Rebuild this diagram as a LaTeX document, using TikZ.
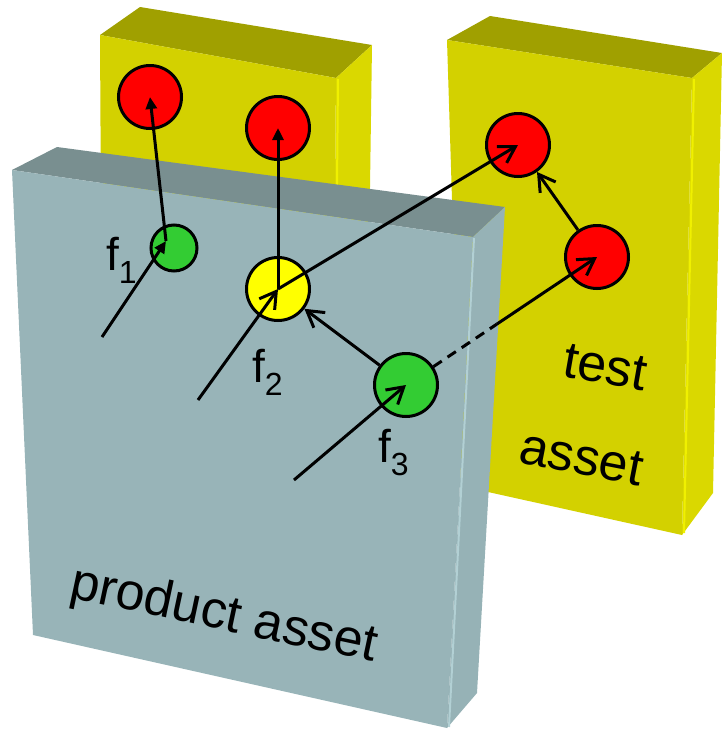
\documentclass[tikz,border=0pt]{standalone}
\usepackage{fontspec}
\setmainfont{Liberation Sans}
\usetikzlibrary{arrows.meta,calc}

% slab and feature colours
\definecolor{yfront}{RGB}{211,209,0}
\definecolor{ytop}{RGB}{160,160,0}
\definecolor{yside}{RGB}{218,216,0}
\definecolor{yedge}{RGB}{240,240,0}
\definecolor{gfront}{RGB}{152,180,184}
\definecolor{gtop}{RGB}{121,143,144}
\definecolor{gside}{RGB}{150,178,182}
\definecolor{gedge}{RGB}{178,208,212}
\definecolor{fred}{RGB}{255,0,0}
\definecolor{fgreen}{RGB}{51,204,51}
\definecolor{fyellow}{RGB}{255,255,0}

\begin{document}
\begin{tikzpicture}[x=1pt,y=-1pt,
  feat/.style={circle,draw=black,line width=3pt,inner sep=0pt,minimum size=63pt},
  smallfeat/.style={feat,minimum size=46pt},
  link/.style={line width=3pt,draw=black},
  solidhead/.style={-{Triangle[length=12pt,width=11pt]}},
  openhead/.style={-{Straight Barb[length=16pt,width=19pt]}},
  flabel/.style={anchor=base west,inner sep=0pt,font=\fontsize{46}{46}\selectfont},
  slabtext/.style={anchor=base west,inner sep=0pt,font=\fontsize{52}{52}\selectfont}
]
\useasboundingbox (0,0) rectangle (722,734);

% back-left test slab
\fill[ytop]   (100,35) -- (140,7) -- (372,45) -- (336,78) -- cycle;
\fill[yfront] (100,35) -- (336,78) -- (333,400) -- (102,400) -- cycle;
\fill[yside]  (336,78) -- (372,45) -- (367,400) -- (333,400) -- cycle;
\draw[yedge,line width=2pt] (338,79) -- (335,400);

% back-right test slab
\fill[ytop]   (447,40) -- (490,16) -- (722,53) -- (692,78) -- cycle;
\fill[yfront] (447,40) -- (692,78) -- (682,535) -- (461,486) -- cycle;
\fill[yside]  (692,78) -- (722,53) -- (713,493) -- (682,535) -- cycle;
\draw[yedge,line width=2pt] (694,79) -- (684,533);

% front product slab
\fill[gtop]   (12,170) -- (57,147) -- (505,207) -- (473,237) -- cycle;
\fill[gfront] (12,170) -- (473,237) -- (447,728) -- (33,635) -- cycle;
\fill[gside]  (473,237) -- (505,207) -- (477,693) -- (447,728) -- cycle;
\draw[gedge,line width=2pt] (474,238) -- (449,727);

% slab captions
\node[slabtext,rotate=-12] (tprod) at (68,597) {product asset};
\node[slabtext,rotate=-10] (ttest) at (561,376) {test};
\node[slabtext,rotate=-11] (tasset) at (517,462) {asset};

% features
\node[feat,fill=fred] (r1) at (150,97) {};
\node[feat,fill=fred] (r2) at (278,128) {};
\node[feat,fill=fred] (r3) at (518,145) {};
\node[feat,fill=fred] (r4) at (597,257) {};
\node[smallfeat,fill=fgreen] (f1) at (174,248) {};
\node[feat,fill=fyellow] (f2) at (278,289) {};
\node[feat,fill=fgreen] (f3) at (406,385) {};

% feature labels
\node[flabel] (l1) at (106,270) {f\raisebox{-13pt}{\fontsize{32}{32}\selectfont 1}};
\node[flabel] (l2) at (252,382) {f\raisebox{-13pt}{\fontsize{32}{32}\selectfont 2}};
\node[flabel] (l3) at (378,462) {f\raisebox{-13pt}{\fontsize{32}{32}\selectfont 3}};

% connector end points
\coordinate (p1) at (166,241);
\coordinate (s1) at (102,337);
\coordinate (s2) at (198,400);
\coordinate (s3) at (294,480);
\coordinate (m) at ($(f3)!0.475!(r4)$);

% connectors
\draw[link,solidhead] (s1) -- (p1);
\draw[link,solidhead] (p1) -- (r1.center);
\draw[link,openhead] (s2) -- (f2.center);
\draw[link,solidhead] (f2.center) -- (r2.center);
\draw[link,openhead] (f2.center) -- (r3.center);
\draw[link,openhead] (f3) -- (f2);
\draw[link,openhead] (s3) -- (f3.center);
\draw[link,dash pattern=on 10pt off 7pt] (f3) -- (m);
\draw[link,openhead] (m) -- (r4.center);
\draw[link,openhead] (r4) -- (r3);
\end{tikzpicture}
\end{document}
